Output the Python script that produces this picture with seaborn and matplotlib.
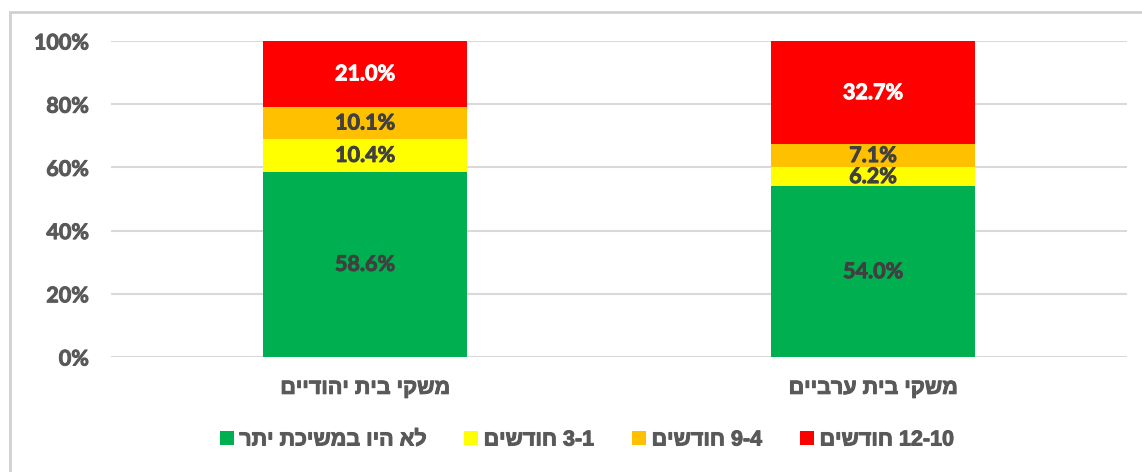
import re
import numpy as np
import pandas as pd
import seaborn as sns
import matplotlib.pyplot as plt
import matplotlib.patheffects as pe
from matplotlib.patches import Rectangle
from matplotlib import font_manager as fm

# data (percent of households)
groups = ["משקי בית יהודיים", "משקי בית ערביים"]
series = ["לא היו במשיכת יתר", "3-1 חודשים", "9-4 חודשים", "12-10 חודשים"]
none_od = [58.6, 54.0]
m1_3 = [10.4, 6.2]
m4_9 = [10.1, 7.1]
m10_12 = [21.0, 32.7]
colors = ["#00B050", "#FFFF00", "#FFC000", "#FF0000"]
label_colors = ["#404040", "#404040", "#404040", "#FFFFFF"]


def is_heb(w):
    return re.search(r"[\u0590-\u05FF]", w) is not None


def rtl(s):
    # no bidi in matplotlib: right-to-left word order, hebrew words flipped
    return " ".join(w[::-1] if is_heb(w) else w for w in reversed(s.split()))


def bold_font(names, size):
    # look for a real "-Bold" file (not Semibold/Medium) of the given families
    for n in names:
        for f in fm.fontManager.ttflist:
            base = f.fname.split("/")[-1]
            if f.name == n and re.search(r"(-|_)Bold\.(ttf|otf)$", base):
                return fm.FontProperties(fname=f.fname, size=size)
    return fm.FontProperties(family="DejaVu Sans", weight="bold", size=size)


def thick(color, lw=0.7):
    return [pe.withStroke(linewidth=lw, foreground=color)]


df = pd.DataFrame({"group": groups, "s0": none_od, "s1": m1_3,
                   "s2": m4_9, "s3": m10_12})
cols = ["s0", "s1", "s2", "s3"]

sns.set_theme(style="white")
txt_grey = "#595959"
num_fp = bold_font(["Lato", "Open Sans", "Liberation Sans"], 15.5)
heb_fp = bold_font(["Liberation Sans", "DejaVu Sans"], 15.5)

fig = plt.figure(figsize=(11.42, 4.72), dpi=100)
ax = fig.add_axes([111 / 1142, 1 - 357 / 472, (1127 - 111) / 1142, (357 - 41) / 472])

bottom = np.zeros(len(groups))
for i, c in enumerate(cols):
    sns.barplot(data=df, x="group", y=c, order=groups, color=colors[i],
                width=0.4, bottom=bottom, ax=ax, label=rtl(series[i]),
                saturation=1, linewidth=0)
    vals = df[c].values
    for j, v in enumerate(vals):
        ax.text(j, bottom[j] + v / 2, f"{v:.1f}%", ha="center", va="center",
                color=label_colors[i], fontproperties=num_fp,
                path_effects=thick(label_colors[i]))
    bottom = bottom + vals

ax.set_xlim(-0.5, 1.5)
ax.set_ylim(0, 100)
ax.set_yticks(np.arange(0, 101, 20))
ax.set_yticklabels([f"{t}%" for t in range(0, 101, 20)])
ax.set_xticks([0, 1])
ax.set_xticklabels([rtl(g) for g in groups])
for lab in ax.get_yticklabels():
    lab.set_fontproperties(num_fp)
    lab.set_color(txt_grey)
    lab.set_path_effects(thick(txt_grey))
for lab in ax.get_xticklabels():
    lab.set_fontproperties(heb_fp)
    lab.set_color(txt_grey)
    lab.set_path_effects(thick(txt_grey))
ax.tick_params(axis="x", length=0, pad=15)
ax.tick_params(axis="y", length=0, pad=16)
ax.set_xlabel("")
ax.set_ylabel("")
ax.grid(axis="y", color="#D9D9D9", linewidth=1.5)
ax.set_axisbelow(True)
for sp in ax.spines.values():
    sp.set_visible(False)

leg = ax.legend(loc="center", bbox_to_anchor=(587 / 1142, (472 - 440) / 472),
                bbox_transform=fig.transFigure, ncol=4, frameon=False,
                handlelength=0.65, handleheight=0.65, handletextpad=0.25,
                columnspacing=1.77, prop=heb_fp)
for t in leg.get_texts():
    t.set_color(txt_grey)
    t.set_path_effects(thick(txt_grey))

# chart frame (only top and left edges fall inside the image)
fig.add_artist(Rectangle((10 / 1142, -0.2), 1.2, 1.2 - 12 / 472,
                         transform=fig.transFigure, fill=False,
                         edgecolor="#D0D0D0", linewidth=2))

fig.savefig("out.png", dpi=100)
